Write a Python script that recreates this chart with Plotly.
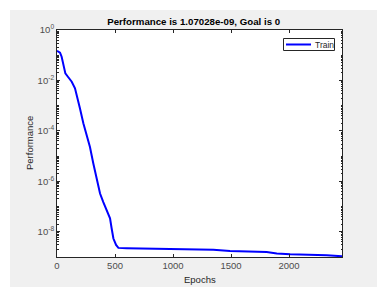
import plotly.graph_objects as go

epochs = [0, 26, 40, 55, 72, 89, 127, 155, 175, 198, 227, 256, 284, 313, 342, 371,
          399, 428, 457, 471, 486, 509, 529, 600, 1003, 1146, 1347, 1491, 1807,
          1894, 2009, 2325, 2370, 2400, 2456]
performance = [1.5e-1, 1.26e-1, 8.7e-2, 4.8e-2, 1.9e-2, 1.5e-2, 8.9e-3, 4.9e-3, 2.2e-3,
               7.8e-4, 2.0e-4, 6.8e-5, 2.3e-5, 5.1e-6, 1.1e-6, 3.3e-7, 1.5e-7, 7.2e-8,
               3.4e-8, 1.35e-8, 5.4e-9, 3.0e-9, 2.3e-9, 2.24e-9, 2.04e-9, 1.95e-9,
               1.95e-9, 1.74e-9, 1.58e-9, 1.38e-9, 1.29e-9, 1.17e-9, 1.15e-9, 1.08e-9,
               1.07028e-9]
x_ticks = [0, 500, 1000, 1500, 2000]
y_ticks = [1e-8, 1e-6, 1e-4, 1e-2, 1]
y_ticktext = ["10<sup>-8</sup>", "10<sup>-6</sup>", "10<sup>-4</sup>", "10<sup>-2</sup>", "10<sup>0</sup>"]
series_name = "Train"

FONT = "Liberation Sans, Arial, sans-serif"
AX = "#262626"
TICKC = "#4d4d4d"
BLUE = "#0000ff"

minor_y = [m * 10.0 ** k for k in range(-9, 0) for m in range(1, 10)]

fig = go.Figure()
fig.add_trace(go.Scatter(x=epochs, y=performance, mode="lines", name=series_name,
                         line=dict(color=BLUE, width=2), showlegend=False))

W, H = 386, 299
L, R, T, B = 57, 44, 30, 42
pw, ph = W - L - R, H - T - B

def px(x):
    return (x - L) / pw

def py(y):
    return (H - B - y) / ph

# compact MATLAB-style legend box
lx0, lx1, ly0, ly1 = 283.5, 334.5, 38.5, 50.5
lmid = (ly0 + ly1) / 2

fig.update_layout(
    width=W, height=H,
    margin=dict(l=L, r=R, t=T, b=B, autoexpand=False),
    paper_bgcolor="white", plot_bgcolor="white",
    font=dict(family=FONT, size=9.5, color=TICKC),
    title=dict(text="<b>Performance is 1.07028e-09, Goal is 0</b>",
               x=px(200), xanchor="center", y=1 - 22 / H, yanchor="middle",
               font=dict(size=9.7, color="#000000", family=FONT)),
    shapes=[
        dict(type="rect", xref="paper", yref="paper", x0=px(10), x1=px(377),
             y0=py(287), y1=py(10), fillcolor="#f0f0f0", line=dict(width=0), layer="below"),
        dict(type="rect", xref="paper", yref="paper", x0=0, x1=1, y0=0, y1=1,
             fillcolor="white", line=dict(width=0), layer="below"),
        dict(type="rect", xref="paper", yref="paper", x0=px(lx0), x1=px(lx1),
             y0=py(ly1), y1=py(ly0), fillcolor="white", line=dict(color=AX, width=1),
             layer="above"),
        dict(type="line", xref="paper", yref="paper", x0=px(286), x1=px(311),
             y0=py(lmid), y1=py(lmid), line=dict(color=BLUE, width=2), layer="above"),
    ],
    annotations=[
        dict(text=series_name, xref="paper", yref="paper", x=px(313), y=py(lmid),
             xanchor="left", yanchor="middle", showarrow=False,
             font=dict(size=8.5, color="#262626")),
        dict(text="Epochs", xref="paper", yref="paper", x=px(200), y=py(279),
             xanchor="center", yanchor="middle", showarrow=False,
             font=dict(size=9.5, color="#262626")),
        dict(text="Performance", xref="paper", yref="paper", x=px(29), y=py(143),
             xanchor="center", yanchor="middle", showarrow=False, textangle=-90,
             font=dict(size=9.5, color="#262626")),
    ],
)

fig.update_xaxes(range=[0, 2456], tickvals=x_ticks, ticks="inside", ticklen=3,
                 tickcolor=AX, showline=True, linecolor=AX, linewidth=1, mirror="ticks",
                 showgrid=False, zeroline=False, automargin=False,
                 tickfont=dict(size=9.5, color=TICKC))
fig.update_yaxes(type="log", range=[-9, 0], tickvals=y_ticks, ticktext=y_ticktext,
                 ticks="inside", ticklen=3, tickcolor=AX, showline=True, linecolor=AX,
                 linewidth=1, mirror="ticks", showgrid=False, zeroline=False,
                 automargin=False, tickfont=dict(size=9.5, color=TICKC),
                 minor=dict(tickvals=minor_y, ticks="inside", ticklen=1.5, tickcolor=AX,
                            showgrid=False))

fig.write_html("out.html", config={"displayModeBar": False},
               post_script="document.body.style.margin='0';document.body.style.overflow='hidden';")
